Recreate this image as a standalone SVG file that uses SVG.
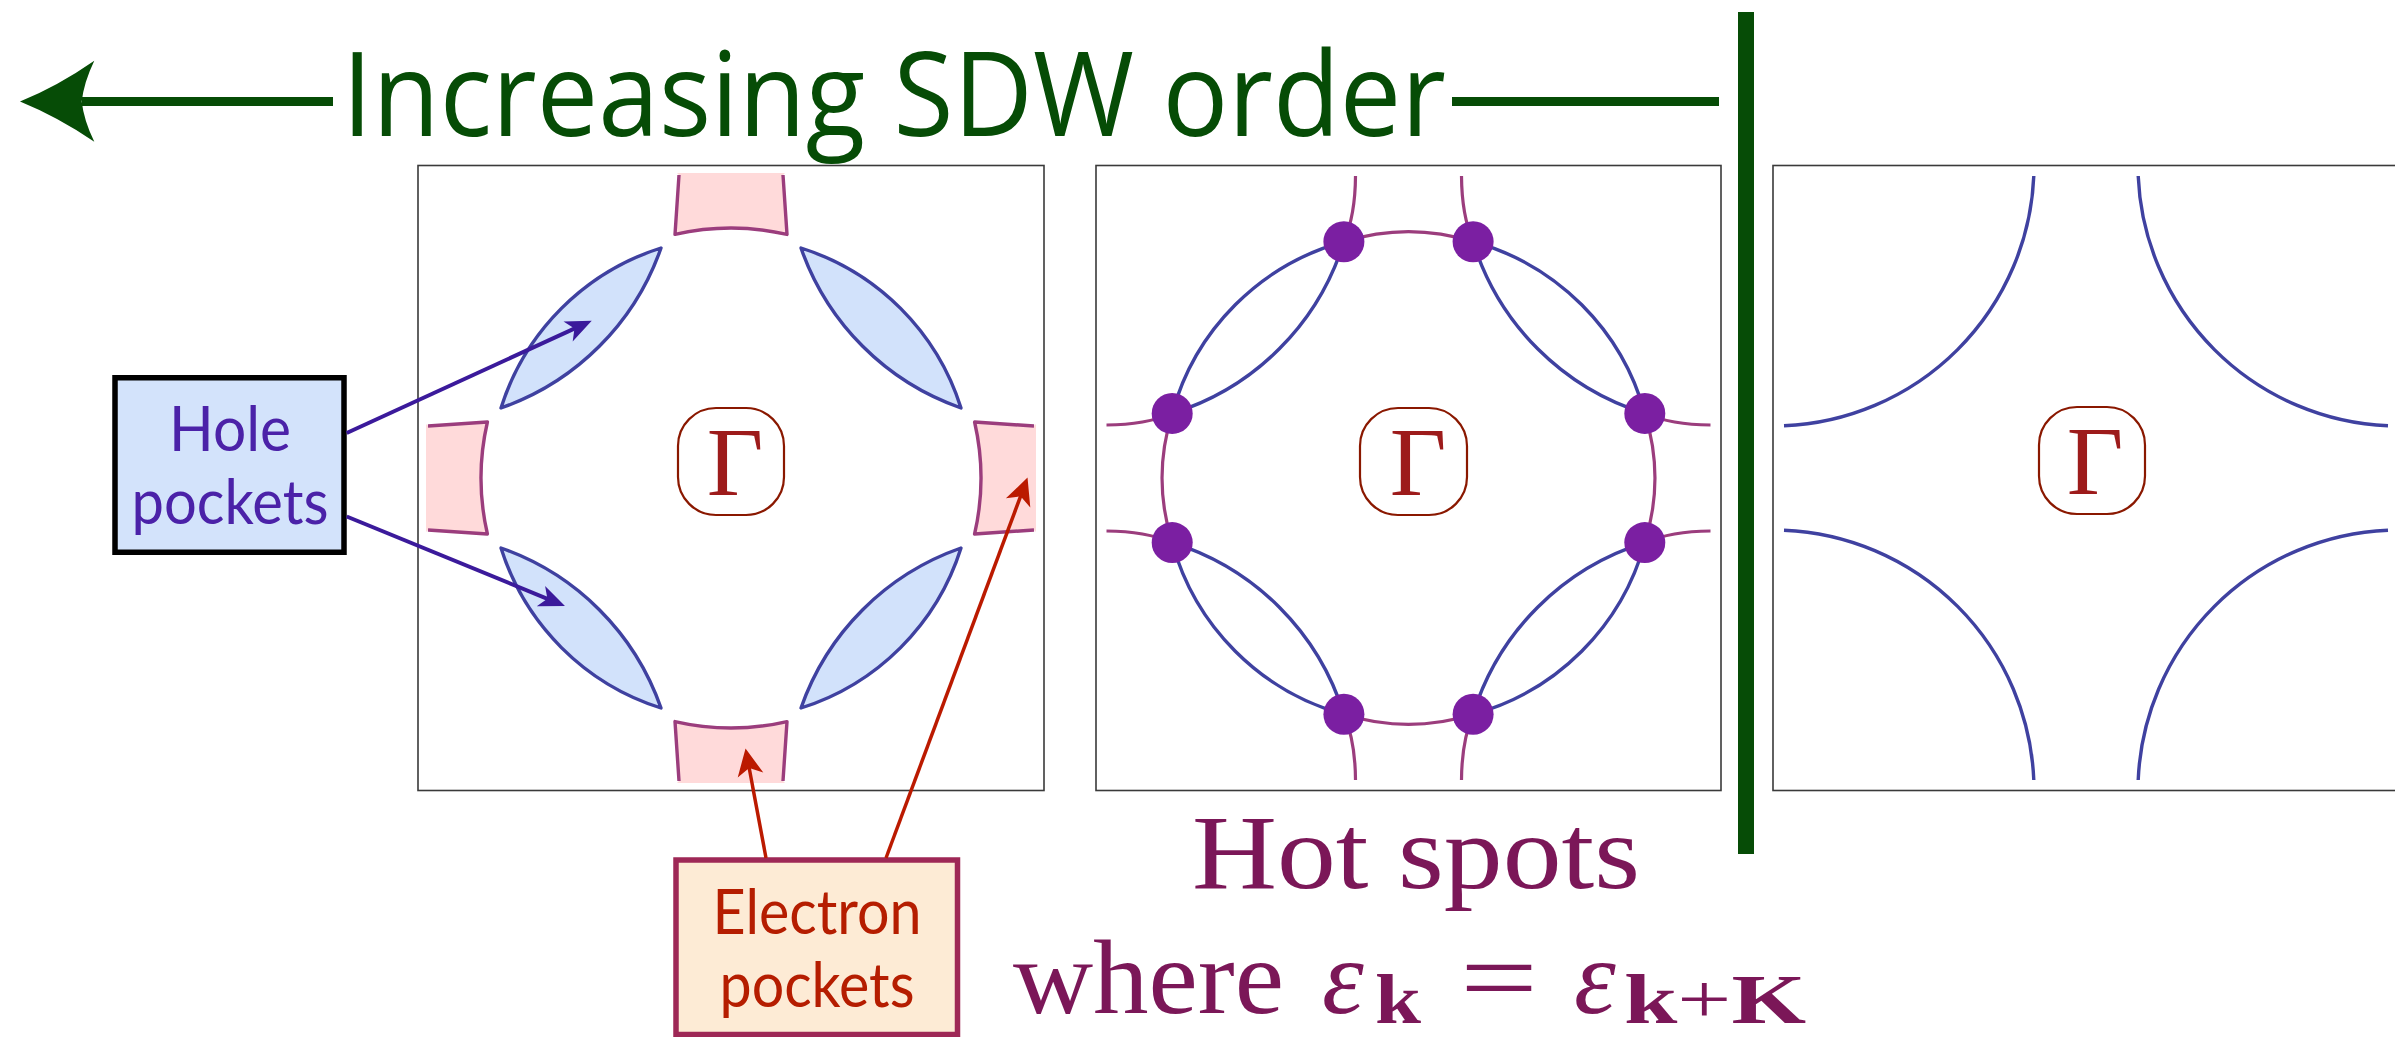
<svg xmlns="http://www.w3.org/2000/svg" width="2395" height="1037" viewBox="0 0 2395 1037">
<style>
.panel{fill:#fff;stroke:#3a3a3a;stroke-width:1.6}
.lens{fill:#d2e2fb;stroke:#3f41a0;stroke-width:3.4;stroke-linejoin:round}
.blue{fill:none;stroke:#3f41a0;stroke-width:3.4;stroke-linecap:butt}
.mag{fill:none;stroke:#9b3d7d;stroke-width:3.2}
.pfill{fill:#ffdada;stroke:none}
.pstroke{fill:none;stroke:#9b3d7d;stroke-width:3.4;stroke-linejoin:round}
.dot{fill:#7b1fa2}
.gbox{fill:#fff;stroke:#8a1800;stroke-width:2.2}
.gam{font-family:"Liberation Serif",serif;font-size:98px;fill:#9d1b1b;text-anchor:middle}
.lbl{font-family:Lato,"Open Sans",sans-serif;font-size:61px;text-anchor:middle}
.tex{font-family:"Liberation Serif",serif;fill:#7b1758}
</style>
<defs>
<marker id="hb" markerUnits="userSpaceOnUse" viewBox="-14 -14 32 28" markerWidth="32" markerHeight="28" refX="0" refY="0" orient="auto">
<path d="M15,0 L-11,-11 L-4,0 L-11,11 Z" fill="#3b1a9b"/>
</marker>
<marker id="hr" markerUnits="userSpaceOnUse" viewBox="-14 -14 32 28" markerWidth="32" markerHeight="28" refX="0" refY="0" orient="auto">
<path d="M15,0 L-12,-13 L-5,0 L-12,13 Z" fill="#bb1a00"/>
</marker>
<g id="lens"><path class="lens" d="M-70,-230 A245,245 0 0 0 -230,-70 A260,260 0 0 0 -70,-230 Z"/></g>
<g id="epocket">
<path class="pfill" d="M-54,-305 L-52,-303 Q-54,-272 -56,-243.6 A250,250 0 0 1 56,-243.6 Q54,-272 52,-303 L54,-305 Z"/>
<path class="pstroke" d="M-52,-303 Q-54,-272 -56,-243.6 A250,250 0 0 1 56,-243.6 Q54,-272 52,-303"/>
</g>
</defs>
<rect width="2395" height="1037" fill="#fff"/>

<g id="title">
<path d="M20,101.5 Q58,86 94.3,60.7 Q84,82 81.7,101.5 Q84,121 94.3,141.7 Q58,117 20,101.5 Z" fill="#064c06"/>
<line x1="82" y1="101.5" x2="333" y2="101.5" stroke="#064c06" stroke-width="9"/>
<text x="342" y="136" font-family="'Open Sans',sans-serif" font-size="118" fill="#064c06" textLength="1104" lengthAdjust="spacingAndGlyphs">Increasing SDW order</text>
<line x1="1452" y1="101.5" x2="1719" y2="101.5" stroke="#064c06" stroke-width="9"/>
<rect x="1738" y="12" width="16" height="842" fill="#064c06"/>
</g>

<g id="panel1">
<rect class="panel" x="418" y="165.5" width="626" height="625"/>
<g transform="translate(731,478)">
<use href="#epocket"/>
<use href="#epocket" transform="rotate(90)"/>
<use href="#epocket" transform="rotate(180)"/>
<use href="#epocket" transform="rotate(270)"/>
<use href="#lens"/>
<use href="#lens" transform="rotate(90)"/>
<use href="#lens" transform="rotate(180)"/>
<use href="#lens" transform="rotate(270)"/>
</g>
<rect class="gbox" x="678" y="408" width="106" height="107" rx="38"/>
<text class="gam" x="735" y="495">Γ</text>
</g>

<g id="panel2">
<rect class="panel" x="1096" y="165.5" width="625" height="625"/>
<g transform="translate(1408.5,478)">
<path class="mag" d="M-64.6,-236.3 Q-53.2,-263 -53,-302 M64.6,-236.3 Q53.2,-263 53,-302 M-64.6,236.3 Q-53.2,263 -53,302 M64.6,236.3 Q53.2,263 53,302 M-236.3,-64.6 Q-263,-53.2 -302,-53 M-236.3,64.6 Q-263,53.2 -302,53 M236.3,-64.6 Q263,-53.2 302,-53 M236.3,64.6 Q263,53.2 302,53"/>
<path class="mag" d="M-64.6,-236.3 A215,215 0 0 1 64.6,-236.3 M236.3,-64.6 A215,215 0 0 1 236.3,64.6 M64.6,236.3 A215,215 0 0 1 -64.6,236.3 M-236.3,64.6 A215,215 0 0 1 -236.3,-64.6"/>
<path class="blue" d="M64.6,-236.3 A245,245 0 0 1 236.3,-64.6 M236.3,64.6 A245,245 0 0 1 64.6,236.3 M-64.6,236.3 A245,245 0 0 1 -236.3,64.6 M-236.3,-64.6 A245,245 0 0 1 -64.6,-236.3"/>
<path class="blue" d="M-236.3,-64.6 A260,260 0 0 0 -64.6,-236.3 M64.6,-236.3 A260,260 0 0 0 236.3,-64.6 M236.3,64.6 A260,260 0 0 0 64.6,236.3 M-64.6,236.3 A260,260 0 0 0 -236.3,64.6"/>
<circle class="dot" cx="-64.6" cy="-236.3" r="20.5"/>
<circle class="dot" cx="64.6" cy="-236.3" r="20.5"/>
<circle class="dot" cx="-64.6" cy="236.3" r="20.5"/>
<circle class="dot" cx="64.6" cy="236.3" r="20.5"/>
<circle class="dot" cx="-236.3" cy="-64.6" r="20.5"/>
<circle class="dot" cx="-236.3" cy="64.6" r="20.5"/>
<circle class="dot" cx="236.3" cy="-64.6" r="20.5"/>
<circle class="dot" cx="236.3" cy="64.6" r="20.5"/>
</g>
<rect class="gbox" x="1360" y="408" width="107" height="107" rx="38"/>
<text class="gam" x="1418" y="495">Γ</text>
</g>

<g id="panel3">
<rect class="panel" x="1773" y="165.5" width="626" height="625"/>
<g transform="translate(2086,478)">
<path class="blue" d="M-52.2,-302 A261,261 0 0 1 -302,-52.2 M302,-52.2 A261,261 0 0 1 52.2,-302 M52.2,302 A261,261 0 0 1 302,52.2 M-302,52.2 A261,261 0 0 1 -52.2,302"/>
</g>
<rect class="gbox" x="2039" y="407" width="106" height="107" rx="38"/>
<text class="gam" x="2095" y="494">Γ</text>
</g>

<g id="hole-label">
<rect x="115" y="377.75" width="229" height="174.5" fill="#d3e3fb" stroke="#000" stroke-width="5.5"/>
<text class="lbl" x="230" y="450.7" fill="#4b22a8" textLength="122" lengthAdjust="spacingAndGlyphs">Hole</text>
<text class="lbl" x="230" y="524" fill="#4b22a8" textLength="197" lengthAdjust="spacingAndGlyphs">pockets</text>
</g>

<g id="electron-label">
<rect x="676" y="860" width="281.5" height="174.5" fill="#fdebd5" stroke="#9e2856" stroke-width="5.5"/>
<text class="lbl" x="817" y="934" fill="#b51d00" textLength="209" lengthAdjust="spacingAndGlyphs">Electron</text>
<text class="lbl" x="817" y="1006.7" fill="#b51d00" textLength="195" lengthAdjust="spacingAndGlyphs">pockets</text>
</g>

<g id="hotspots-label">
<text class="tex" x="1192" y="887.7" font-size="106" textLength="448" lengthAdjust="spacingAndGlyphs">Hot spots</text>
<text class="tex" x="1013" y="1013" font-size="106" textLength="271" lengthAdjust="spacingAndGlyphs">where</text>
<text class="tex" x="1322" y="1013" font-size="106" font-style="italic">ε</text>
<text class="tex" x="1375" y="1023" font-size="70" font-weight="bold" textLength="46" lengthAdjust="spacingAndGlyphs">k</text>
<text class="tex" x="1460" y="1013" font-size="106" textLength="78" lengthAdjust="spacingAndGlyphs">=</text>
<text class="tex" x="1574" y="1013" font-size="106" font-style="italic">ε</text>
<text class="tex" x="1624" y="1023" font-size="70" textLength="182" lengthAdjust="spacingAndGlyphs"><tspan font-weight="bold">k</tspan>+<tspan font-weight="bold">K</tspan></text>
</g>

<g id="connectors">
<line x1="346.7" y1="433" x2="578.1" y2="326.9" stroke="#3b1a9b" stroke-width="4" marker-end="url(#hb)"/>
<line x1="346.7" y1="516.5" x2="551.1" y2="600.3" stroke="#3b1a9b" stroke-width="4" marker-end="url(#hb)"/>
<line x1="766" y1="858" x2="748.3" y2="763.2" stroke="#bb1a00" stroke-width="3.5" marker-end="url(#hr)"/>
<line x1="886" y1="858" x2="1022.3" y2="491.6" stroke="#bb1a00" stroke-width="3.5" marker-end="url(#hr)"/>
</g>
</svg>
